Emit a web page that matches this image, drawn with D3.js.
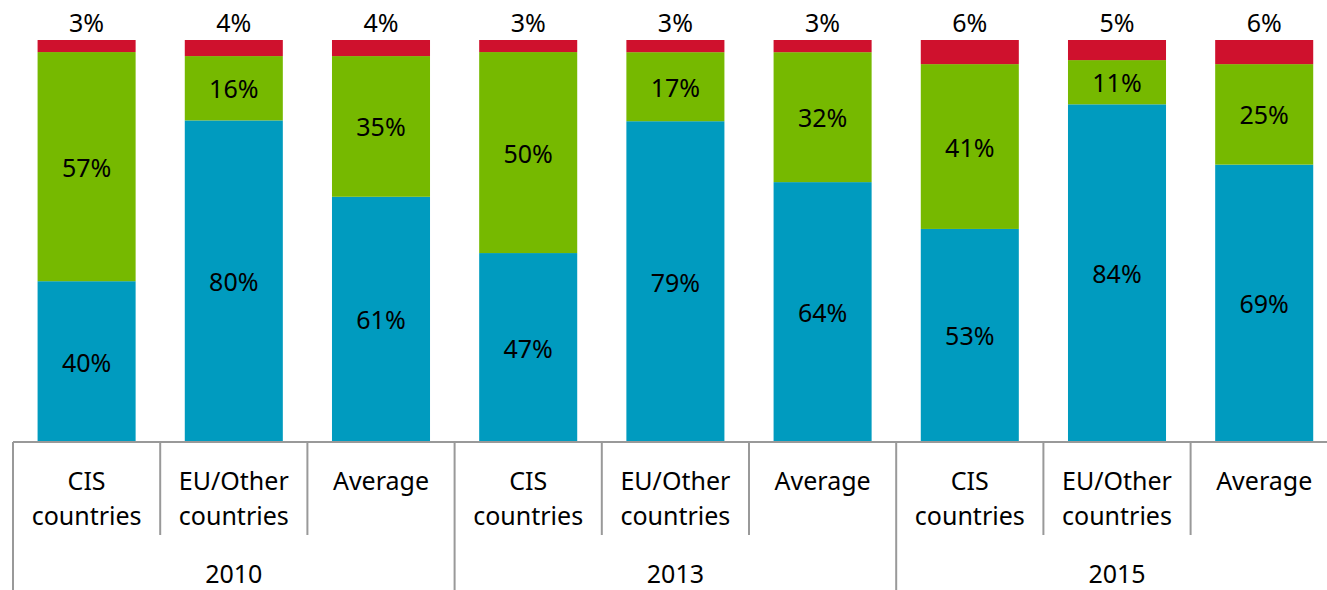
<!DOCTYPE html>
<html><head><meta charset="utf-8">
<script src="https://cdn.jsdelivr.net/npm/d3@7"></script>
<style>body{margin:0;background:#fff}svg{display:block}text{font-family:"Noto Sans","Open Sans",sans-serif}</style>
</head><body><svg id="c" width="1327" height="590"></svg>
<script>
const years = ["2010","2013","2015"];
const groups = ["CIS countries","EU/Other countries","Average"];
const categories = ["2010|CIS","2010|EU","2010|Avg","2013|CIS","2013|EU","2013|Avg","2015|CIS","2015|EU","2015|Avg"];
const blueVals  = [40,80,61,47,79,64,53,84,69];
const greenVals = [57,16,35,50,17,32,41,11,25];
const redVals   = [3,4,4,3,3,3,6,5,6];
const seriesColors = ["#009bbf","#76b900","#cf112d"];

const svg = d3.select("#c");
const x = d3.scaleBand().domain(categories).range([13, 13 + 9*147.2]).paddingInner(0.334).paddingOuter(0.167);
const y = d3.scaleLinear().domain([0,1]).range([442, 40]);

const rows = categories.map((c,i)=>{const t=blueVals[i]+greenVals[i]+redVals[i];return {cat:c,b:blueVals[i]/t,g:greenVals[i]/t,r:redVals[i]/t,vb:blueVals[i],vg:greenVals[i],vr:redVals[i]};});
const stack = d3.stack().keys(["b","g","r"])(rows);
const valKey = {b:"vb",g:"vg",r:"vr"};
const FS = 25;

stack.forEach((s,si)=>{
  svg.append("g").selectAll("rect").data(s).join("rect")
    .attr("x",d=>x(d.data.cat)).attr("width",x.bandwidth())
    .attr("y",d=>y(d[1])).attr("height",d=>y(d[0])-y(d[1]))
    .attr("fill",seriesColors[si]);
  svg.append("g").selectAll("text").data(s).join("text")
    .attr("x",d=>x(d.data.cat)+x.bandwidth()/2)
    .attr("y",d=> si===2 ? y(d[1])-8 : (y(d[0])+y(d[1]))/2+10)
    .attr("text-anchor","middle").attr("font-size",FS).attr("fill","#000")
    .text(d=>d.data[valKey[s.key]]+"%");
});

// axis
const ax = svg.append("g").attr("stroke","#999").attr("stroke-width",2);
ax.append("line").attr("x1",13).attr("x2",1327).attr("y1",442).attr("y2",442);
categories.forEach((c,i)=>{
  const xl = x(c) - x.step()*x.paddingInner()/2;
  const isYear = i%3===0;
  ax.append("line").attr("x1",xl).attr("x2",xl).attr("y1",442).attr("y2",isYear?590:535);
});
const lbl = svg.append("g");
categories.forEach((c,i)=>{
  const cx = x(c)+x.bandwidth()/2;
  const words = groups[i%3]==="CIS countries"?["CIS","countries"]:groups[i%3]==="EU/Other countries"?["EU/Other","countries"]:["Average"];
  words.forEach((w,k)=>lbl.append("text").attr("x",cx).attr("y",490+k*35).attr("text-anchor","middle").attr("font-size",FS).text(w));
});
years.forEach((yr,j)=>{
  const cx = x(categories[j*3+1])+x.bandwidth()/2;
  lbl.append("text").attr("x",cx).attr("y",583).attr("text-anchor","middle").attr("font-size",FS).text(yr);
});
</script></body></html>
